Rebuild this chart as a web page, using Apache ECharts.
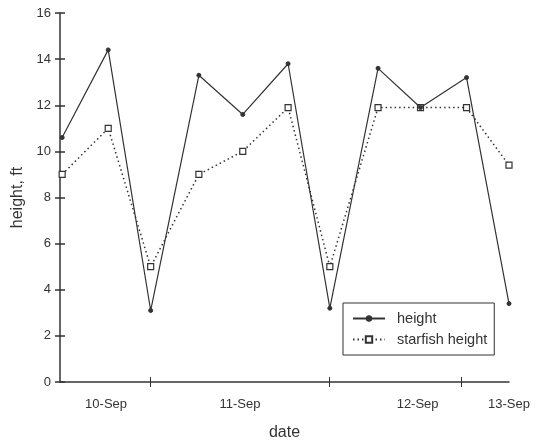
<!DOCTYPE html>
<html>
<head>
<meta charset="utf-8">
<script src="https://cdn.jsdelivr.net/npm/echarts@6/dist/echarts.min.js"></script>
<style>
  html, body { margin: 0; padding: 0; background: #fff; }
  #chart { width: 540px; height: 446px; }
</style>
</head>
<body>
<div id="chart"></div>
<script>
// Sample times in hours from the start of the record
const hours = [0.3, 6.7, 12.6, 19.3, 25.4, 31.7, 37.5, 44.2, 50.1, 56.5, 62.4];
// Tide height, ft
const height = [10.6, 14.4, 3.1, 13.3, 11.6, 13.8, 3.2, 13.6, 11.9, 13.2, 3.4];
// Height of the starfish, ft
const starfishHeight = [9.0, 11.0, 5.0, 9.0, 10.0, 11.9, 5.0, 11.9, 11.9, 11.9, 9.4];

// Date axis: tick marks and label positions (hours)
const dateTicks = [12.5, 37.4, 55.8];
const dateLabelHours = [6.4, 25.0, 49.7, 62.4];
const dateLabels = ['10-Sep', '11-Sep', '12-Sep', '13-Sep'];

// Height axis
const yMin = 0, yMax = 16, yStep = 2;

const ink = '#333';
const font = 'Liberation Sans, Arial, sans-serif';

const pair = (xs, ys) => xs.map((x, i) => [x, ys[i]]);

const chart = echarts.init(document.getElementById('chart'), null, { renderer: 'canvas' });

const xBase = { type: 'value', min: 0, max: 62.4, splitLine: { show: false } };
const yBase = { type: 'value', min: yMin, max: yMax, interval: yStep, splitLine: { show: false } };

chart.setOption({
  animation: false,
  backgroundColor: '#fff',
  textStyle: { fontFamily: font, color: ink },
  grid: { left: 60, right: 31, top: 13, bottom: 64, outerBoundsMode: 'none', containLabel: false },
  xAxis: [
    Object.assign({}, xBase, {
      name: 'date',
      nameLocation: 'middle',
      nameGap: 43,
      nameTextStyle: { fontSize: 16, color: ink, fontFamily: font },
      axisLine: { show: true, lineStyle: { color: ink, width: 1.5 } },
      axisTick: { show: true, inside: false, length: 5, customValues: dateTicks, lineStyle: { color: ink } },
      axisLabel: {
        show: true,
        customValues: dateLabelHours,
        margin: 16,
        fontSize: 13,
        color: ink,
        fontFamily: font,
        showMaxLabel: true,
        formatter: v => {
          const i = dateLabelHours.findIndex(h => Math.abs(h - v) < 1e-6);
          return i >= 0 ? dateLabels[i] : '';
        }
      }
    }),
    Object.assign({}, xBase, {
      position: 'bottom',
      axisLine: { show: false },
      axisTick: { show: true, inside: true, length: 5, customValues: dateTicks, lineStyle: { color: ink } },
      axisLabel: { show: false }
    })
  ],
  yAxis: [
    Object.assign({}, yBase, {
      name: 'height, ft',
      nameLocation: 'middle',
      nameGap: 27,
      nameTextStyle: { fontSize: 16, color: ink, fontFamily: font },
      axisLine: { show: true, lineStyle: { color: ink, width: 1.5 } },
      axisTick: { show: true, inside: false, length: 5, lineStyle: { color: ink, width: 1.5 } },
      axisLabel: { margin: 9, fontSize: 13, color: ink, fontFamily: font }
    }),
    Object.assign({}, yBase, {
      position: 'left',
      axisLine: { show: false },
      axisTick: { show: true, inside: true, length: 5, lineStyle: { color: ink, width: 1.5 } },
      axisLabel: { show: false }
    })
  ],
  legend: {
    orient: 'vertical',
    left: 343,
    top: 303,
    padding: [8, 7, 8, 9],
    itemGap: 6,
    itemWidth: 32,
    itemHeight: 8,
    borderColor: ink,
    borderWidth: 1,
    textStyle: { fontSize: 14.5, color: ink, fontFamily: font, padding: [0, 0, 0, 7] },
    data: ['height', 'starfish height']
  },
  series: [
    {
      name: 'starfish height',
      type: 'line',
      data: pair(hours, starfishHeight),
      symbol: 'rect',
      symbolSize: 6,
      itemStyle: { color: '#fff', borderColor: ink, borderWidth: 1.2 },
      lineStyle: { color: ink, width: 1.5, type: [1.5, 3] },
      z: 2
    },
    {
      name: 'height',
      type: 'line',
      data: pair(hours, height),
      symbol: 'circle',
      symbolSize: 4,
      itemStyle: { color: ink, borderColor: ink },
      lineStyle: { color: ink, width: 1.2 },
      z: 3
    }
  ]
});
</script>
</body>
</html>
